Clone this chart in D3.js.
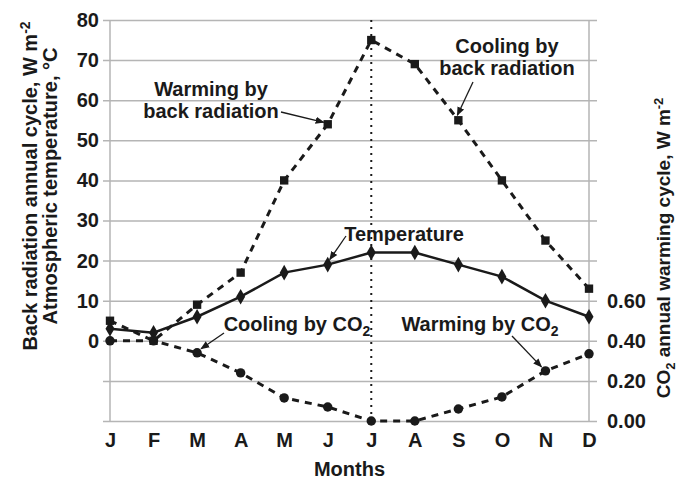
<!DOCTYPE html>
<html>
<head>
<meta charset="utf-8">
<script src="https://cdn.jsdelivr.net/npm/d3@7"></script>
<style>
  body { margin: 0; background: #fff; }
  text { font-family: "Liberation Sans", Arial, sans-serif; font-weight: bold; fill: #1a1a1a; }
</style>
</head>
<body>
<div id="chart"></div>
<script>
// Chart data
var months = ["J", "F", "M", "A", "M", "J", "J", "A", "S", "O", "N", "D"];
var backRadiation = [5, 0, 9, 17, 40, 54, 75, 69, 55, 40, 25, 13];
var temperature = [3, 2, 6, 11, 17, 19, 22, 22, 19, 16, 10, 6];
var co2Warming = [0.40, 0.40, 0.34, 0.24, 0.115, 0.07, 0.0, 0.0, 0.06, 0.12, 0.25, 0.335];
var leftTicks = [-20, -10, 0, 10, 20, 30, 40, 50, 60, 70, 80];
var rightTicks = [0, 0.2, 0.4, 0.6];

// SVG size
var svg_Width = 689;
var svg_Height = 480;

var plot = { left: 110, right: 589, top: 20, bottom: 421 };

var svg = d3.select("#chart")
  .append("svg")
  .attr("width", svg_Width)
  .attr("height", svg_Height);

var defs = svg.append("defs");
defs.append("marker")
  .attr("id", "arrow")
  .attr("viewBox", "0 0 10 10")
  .attr("refX", 9)
  .attr("refY", 5)
  .attr("markerWidth", 9)
  .attr("markerHeight", 9)
  .attr("markerUnits", "userSpaceOnUse")
  .attr("orient", "auto")
  .append("path")
  .attr("d", "M0,1 L10,5 L0,9 Z")
  .attr("fill", "#1a1a1a");

// Scales
var x_Scale = d3.scalePoint()
  .domain(d3.range(months.length))
  .range([plot.left, plot.right]);

var yLeft_Scale = d3.scaleLinear()
  .domain([-20, 80])
  .range([plot.bottom, plot.top]);

var yRight_Scale = d3.scaleLinear()
  .domain([0, 2])
  .range([plot.bottom, plot.top]);

// Gridlines + left tick labels
var left_Axis = d3.axisLeft(yLeft_Scale)
  .tickValues(leftTicks)
  .tickSize(plot.right + 8 - (plot.left - 7))
  .tickPadding(4)
  .tickFormat(d => d < 0 ? "" : d);

var gLeft = svg.append("g")
  .attr("transform", `translate(${plot.right + 8}, 0)`)
  .call(left_Axis);
gLeft.select(".domain").remove();
gLeft.selectAll(".tick line").attr("stroke", "#b5b5b5").attr("stroke-width", 1.5);
gLeft.selectAll(".tick text").style("font-size", "20px");

// Vertical axis lines
svg.append("line")
  .attr("x1", plot.left).attr("x2", plot.left)
  .attr("y1", plot.top).attr("y2", plot.bottom)
  .attr("stroke", "#b5b5b5").attr("stroke-width", 1.5);
svg.append("line")
  .attr("x1", plot.right).attr("x2", plot.right)
  .attr("y1", plot.top).attr("y2", plot.bottom)
  .attr("stroke", "#b5b5b5").attr("stroke-width", 1.5);

// Right tick labels
var right_Axis = d3.axisRight(yRight_Scale)
  .tickValues(rightTicks)
  .tickSize(0)
  .tickPadding(18)
  .tickFormat(d3.format(".2f"));
var gRight = svg.append("g")
  .attr("transform", `translate(${plot.right}, 0)`)
  .call(right_Axis);
gRight.select(".domain").remove();
gRight.selectAll(".tick text").style("font-size", "20px");

// Bottom month labels
var bottom_Axis = d3.axisBottom(x_Scale)
  .tickSize(0)
  .tickPadding(12)
  .tickFormat(i => months[i]);
var gBottom = svg.append("g")
  .attr("transform", `translate(0, ${plot.bottom})`)
  .call(bottom_Axis);
gBottom.select(".domain").remove();
gBottom.selectAll(".tick text").style("font-size", "20px");

// Dotted July line
svg.append("line")
  .attr("x1", x_Scale(6)).attr("x2", x_Scale(6))
  .attr("y1", yLeft_Scale(80)).attr("y2", yLeft_Scale(-20))
  .attr("stroke", "#1a1a1a")
  .attr("stroke-width", 2)
  .attr("stroke-dasharray", "2,5");

// Series lines
var leftLine = d3.line()
  .x((d, i) => x_Scale(i))
  .y(d => yLeft_Scale(d));
var rightLine = d3.line()
  .x((d, i) => x_Scale(i))
  .y(d => yRight_Scale(d));

svg.append("path")
  .datum(backRadiation)
  .attr("d", leftLine)
  .attr("fill", "none")
  .attr("stroke", "#1a1a1a")
  .attr("stroke-width", 3)
  .attr("stroke-dasharray", "7,6");

svg.append("path")
  .datum(co2Warming)
  .attr("d", rightLine)
  .attr("fill", "none")
  .attr("stroke", "#1a1a1a")
  .attr("stroke-width", 3)
  .attr("stroke-dasharray", "7,6");

svg.append("path")
  .datum(temperature)
  .attr("d", leftLine)
  .attr("fill", "none")
  .attr("stroke", "#1a1a1a")
  .attr("stroke-width", 2.5);

// Markers
svg.selectAll(".sq")
  .data(backRadiation)
  .enter()
  .append("path")
  .attr("class", "sq")
  .attr("transform", (d, i) => `translate(${x_Scale(i)}, ${yLeft_Scale(d)})`)
  .attr("d", d3.symbol(d3.symbolSquare, 70))
  .attr("fill", "#1a1a1a");

svg.selectAll(".dm")
  .data(temperature)
  .enter()
  .append("path")
  .attr("class", "dm")
  .attr("transform", (d, i) => `translate(${x_Scale(i)}, ${yLeft_Scale(d)})`)
  .attr("d", d3.symbol(d3.symbolDiamond, 70))
  .attr("fill", "#1a1a1a");

svg.selectAll(".ci")
  .data(co2Warming)
  .enter()
  .append("path")
  .attr("class", "ci")
  .attr("transform", (d, i) => `translate(${x_Scale(i)}, ${yRight_Scale(d)})`)
  .attr("d", d3.symbol(d3.symbolCircle, 70))
  .attr("fill", "#1a1a1a");

// Annotations (text position, arrow start, target point)
var annotations = [
  { lines: ["Warming by", "back radiation"], x: 211, y: 96, from: [281, 112], series: "back", idx: 5, off: [-4, -2] },
  { lines: ["Cooling by", "back radiation"], x: 507, y: 53, from: [473, 82], series: "back", idx: 8, off: [-1, -5] },
  { lines: ["Temperature"], x: 404, y: 241, from: [346, 236], series: "temp", idx: 5, off: [2, -5] },
  { lines: ["Cooling by CO", "2"], x: 297, y: 331, from: [224, 333], series: "co2", idx: 2, off: [4, -4], sub: true },
  { lines: ["Warming by CO", "2"], x: 480, y: 331, from: [512, 336], series: "co2", idx: 10, off: [-4, -4], sub: true }
];

function targetPoint(a) {
  var xv = x_Scale(a.idx);
  var yv;
  if (a.series === "back") yv = yLeft_Scale(backRadiation[a.idx]);
  else if (a.series === "temp") yv = yLeft_Scale(temperature[a.idx]);
  else yv = yRight_Scale(co2Warming[a.idx]);
  return [xv + a.off[0], yv + a.off[1]];
}

annotations.forEach(function(a) {
  var t = svg.append("text")
    .attr("x", a.x)
    .attr("y", a.y)
    .attr("text-anchor", "middle")
    .style("font-size", "20px");
  if (a.sub) {
    t.append("tspan").text(a.lines[0]);
    t.append("tspan").attr("dy", 5).style("font-size", "14px").text(a.lines[1]);
  } else {
    a.lines.forEach(function(l, k) {
      t.append("tspan").attr("x", a.x).attr("dy", k === 0 ? 0 : 22).text(l);
    });
  }
  var tp = targetPoint(a);
  svg.append("line")
    .attr("x1", a.from[0]).attr("y1", a.from[1])
    .attr("x2", tp[0]).attr("y2", tp[1])
    .attr("stroke", "#1a1a1a")
    .attr("stroke-width", 1.3)
    .attr("marker-end", "url(#arrow)");
});

// Axis titles
var leftTitle = svg.append("text")
  .attr("transform", "translate(37, 186) rotate(-90)")
  .attr("text-anchor", "middle")
  .style("font-size", "20px");
leftTitle.append("tspan").text("Back radiation annual cycle, W m");
leftTitle.append("tspan").attr("dy", -7).style("font-size", "14px").text("-2");

svg.append("text")
  .attr("transform", "translate(57, 186) rotate(-90)")
  .attr("text-anchor", "middle")
  .style("font-size", "20px")
  .text("Atmospheric temperature, \u00B0C");

var rightTitle = svg.append("text")
  .attr("transform", "translate(670, 248) rotate(-90)")
  .attr("text-anchor", "middle")
  .style("font-size", "19px");
rightTitle.append("tspan").text("CO");
rightTitle.append("tspan").attr("dy", 5).style("font-size", "13px").text("2");
rightTitle.append("tspan").attr("dy", -5).text(" annual warming cycle, W m");
rightTitle.append("tspan").attr("dy", -7).style("font-size", "13px").text("-2");

svg.append("text")
  .attr("x", (plot.left + plot.right) / 2)
  .attr("y", 476)
  .attr("text-anchor", "middle")
  .style("font-size", "20px")
  .text("Months");
</script>
</body>
</html>
